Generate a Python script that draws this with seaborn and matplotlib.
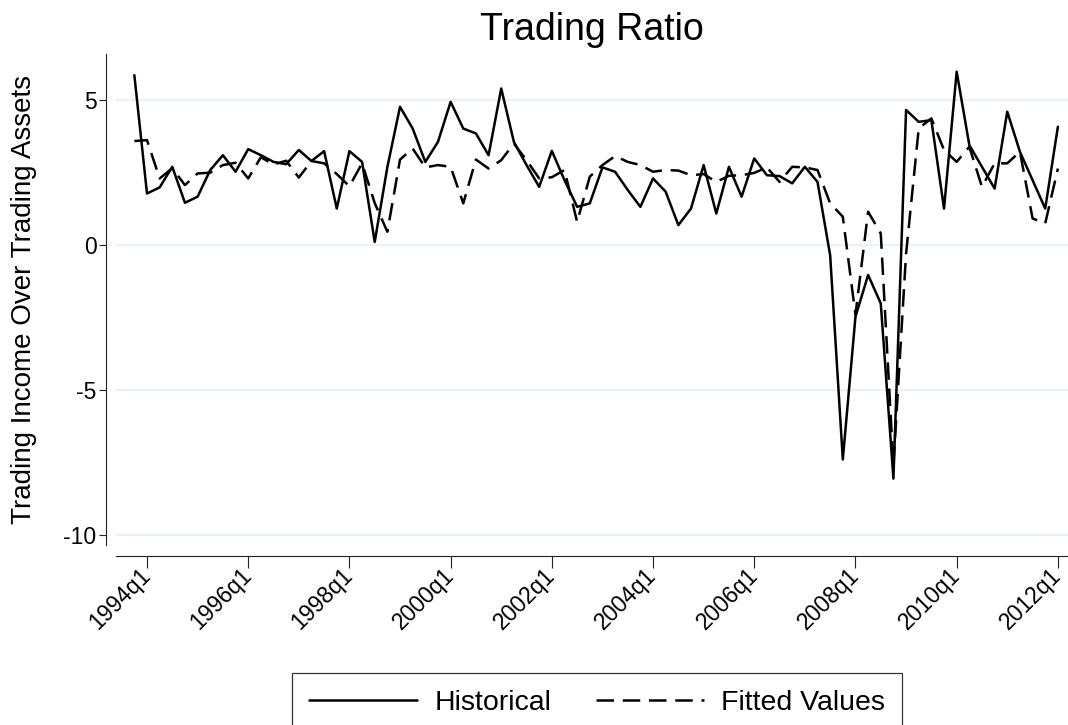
import matplotlib
matplotlib.use("Agg")
import matplotlib.pyplot as plt
import numpy as np
import pandas as pd
import seaborn as sns

# quarterly series, 1993q4 .. 2012q1
start_year, start_q = 1993, 4
historical = [5.86, 1.78, 1.99, 2.70, 1.46, 1.67, 2.59, 3.10, 2.53, 3.31,
              3.10, 2.87, 2.79, 3.28, 2.90, 3.24, 1.26, 3.24, 2.87, 0.11,
              2.69, 4.77, 4.02, 2.87, 3.56, 4.94, 4.02, 3.85, 3.10, 5.40,
              3.56, 2.76, 2.01, 3.25, 2.24, 1.32, 1.44, 2.68, 2.53, 1.90,
              1.32, 2.30, 1.84, 0.69, 1.26, 2.76, 1.09, 2.70, 1.67, 2.99,
              2.41, 2.38, 2.13, 2.70, 2.18, -0.35, -7.39, -2.47, -1.03, -2.01,
              -8.05, 4.66, 4.25, 4.31, 1.26, 5.98, 3.45, 2.70, 1.95, 4.60,
              3.22, 2.24, 1.26, 4.08]
fitted = [3.59, 3.62, 2.30, 2.65, 2.07, 2.47, 2.50, 2.76, 2.84, 2.30,
          3.03, 2.78, 2.91, 2.33, 2.90, 2.82, 2.45, 2.03, 2.82, 1.45,
          0.46, 2.95, 3.33, 2.68, 2.76, 2.70, 1.44, 2.95, 2.64, 2.93,
          3.50, 2.93, 2.30, 2.34, 2.59, 0.80, 2.36, 2.76, 3.07, 2.87,
          2.76, 2.53, 2.59, 2.57, 2.41, 2.45, 2.18, 2.39, 2.41, 2.49,
          2.68, 2.18, 2.70, 2.68, 2.59, 1.44, 0.98, -2.40, 1.15, 0.40,
          -7.60, -0.30, 4.02, 4.37, 3.28, 2.87, 3.39, 2.01, 2.82, 2.82,
          3.22, 0.92, 0.75, 2.64]
series_names = ["Historical", "Fitted Values"]
y_ticks = [5, 0, -5, -10]

n = len(historical)
qidx = np.arange(n)
quarters = []
for k in qidx:
    q = start_q - 1 + k
    quarters.append(f"{start_year + q // 4}q{q % 4 + 1}")

df = pd.DataFrame({
    "t": np.concatenate([qidx, qidx]),
    "value": historical + fitted,
    "series": [series_names[0]] * n + [series_names[1]] * n,
})

sns.set_style("white")
plt.rcParams["font.family"] = ["Liberation Sans", "DejaVu Sans"]
plt.rcParams["text.color"] = "black"
plt.rcParams["xtick.color"] = "black"
plt.rcParams["ytick.color"] = "black"
plt.rcParams["axes.labelcolor"] = "black"

W, H = 1068, 725
fig = plt.figure(figsize=(W / 100, H / 100), dpi=100)
ax = fig.add_axes([116 / W, 1 - 545 / H, (W - 116) / W, (545 - 54) / H])

sns.lineplot(data=df, x="t", y="value", hue="series", style="series",
             palette={series_names[0]: "black", series_names[1]: "black"},
             dashes={series_names[0]: "", series_names[1]: (7, 3.5)},
             linewidth=1.8, ax=ax, legend=False)

# spines first: moving a spine resets the tick objects
for s in ["top", "right"]:
    ax.spines[s].set_visible(False)
ax.spines["left"].set_position(("outward", 7))
ax.spines["bottom"].set_position(("outward", 8))
for s in ["left", "bottom"]:
    ax.spines[s].set_color("#222222")
    ax.spines[s].set_linewidth(0.8)

ax.set_xlim(-1.45, 73.8)
ax.set_ylim(-10.34, 6.59)

ax.grid(axis="y", color="#eaf2f3", linewidth=1.6)
ax.grid(axis="x", visible=False)
ax.set_axisbelow(True)

ax.tick_params(axis="y", length=5, width=0.8, color="#222222", pad=2,
               left=True, labelsize=16.5, labelcolor="black")
ax.tick_params(axis="x", length=8.5, width=0.8, color="#222222", pad=3,
               bottom=True, labelsize=16.5, labelcolor="black")

# ticks every two years at q1
tick_pos = [k for k in qidx if quarters[k].endswith("q1") and int(quarters[k][:4]) % 2 == 0]
ax.set_xticks(tick_pos)
ax.set_xticklabels([quarters[k] for k in tick_pos], rotation=45, ha="right",
                   va="center", rotation_mode="anchor")
ax.set_yticks(y_ticks)
ax.set_yticklabels([str(v) for v in y_ticks])

ax.set_xlabel("")
ax.set_ylabel("Trading Income Over Trading Assets", fontsize=20, color="black")
ax.yaxis.set_label_coords((37 - 116) / (W - 116), 0.5)
ax.set_title("Trading Ratio", fontsize=27, pad=10, color="black")

handles = [plt.Line2D([], [], color="black", lw=1.8),
           plt.Line2D([], [], color="black", lw=1.8, dashes=(7, 3.5))]
leg = fig.legend(handles, series_names, loc="upper center",
                 bbox_to_anchor=(597 / W, 1 - 673 / H), ncol=2, fontsize=20.5,
                 frameon=True, fancybox=False, borderpad=0.6, borderaxespad=0,
                 handlelength=3.8, handletextpad=0.6, columnspacing=1.55)
leg.get_frame().set_edgecolor("black")
leg.get_frame().set_linewidth(0.9)
for t in leg.get_texts():
    t.set_color("black")

fig.savefig("out.png", dpi=100)
